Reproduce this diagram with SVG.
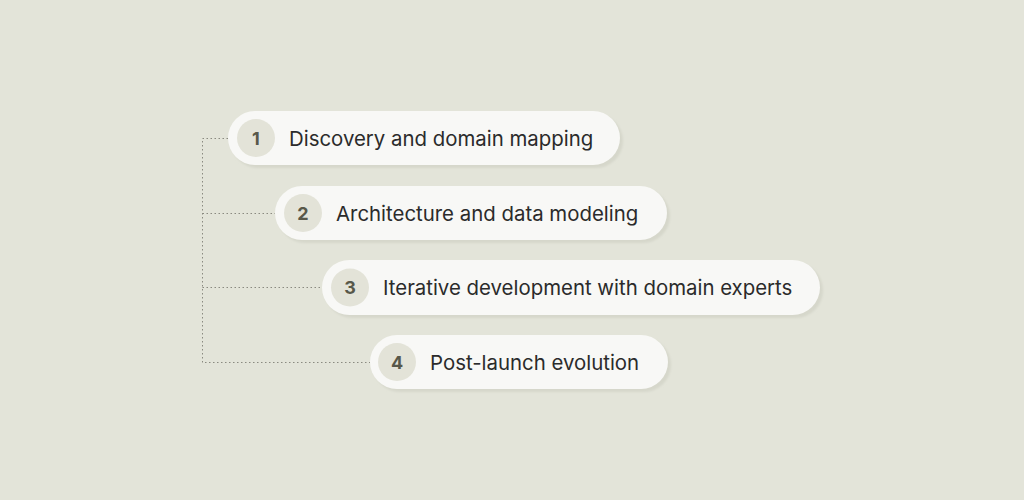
<svg xmlns="http://www.w3.org/2000/svg" width="1024" height="500" viewBox="0 0 1024 500">
<defs>
<style>
.pill{fill:#f8f8f6;}
.sh{fill:#d6d7cb;}
.circ{fill:#e3e3d8;}
.num{font-family:Inter,"Liberation Sans",sans-serif;font-size:18px;font-weight:700;fill:#58584a;text-anchor:middle;}
.lbl{font-family:Inter,"Liberation Sans",sans-serif;font-size:20.4px;fill:#2b2b2b;}
.con{fill:none;stroke:#8a8a80;stroke-width:1;stroke-dasharray:1.5 2.5;}
</style>
<filter id="blur" x="-10%" y="-30%" width="120%" height="160%"><feGaussianBlur stdDeviation="1.2"/></filter>
</defs>
<rect width="1024" height="500" fill="#e3e4d9"/>
<g id="connectors">
<path class="con" d="M228 138.5 H202.5 V362.5 H370"/>
<path class="con" d="M202.5 213.5 H275"/>
<path class="con" d="M202.5 287.5 H322"/>
</g>
<g id="node1">
<rect class="sh" x="231" y="114" width="392" height="54" rx="27" filter="url(#blur)"/>
<rect class="pill" x="228" y="111" width="392" height="54" rx="27"/>
<circle class="circ" cx="256" cy="138" r="19"/>
<text class="num" x="256" y="144.5">1</text>
<text class="lbl" x="289" y="145.5">Discovery and domain mapping</text>
</g>
<g id="node2">
<rect class="sh" x="278" y="189" width="392" height="54" rx="27" filter="url(#blur)"/>
<rect class="pill" x="275" y="186" width="392" height="54" rx="27"/>
<circle class="circ" cx="303" cy="213" r="19"/>
<text class="num" x="303" y="219.5">2</text>
<text class="lbl" x="336" y="220.5">Architecture and data modeling</text>
</g>
<g id="node3">
<rect class="sh" x="325" y="263" width="498" height="55" rx="27.5" filter="url(#blur)"/>
<rect class="pill" x="322" y="260" width="498" height="55" rx="27.5"/>
<circle class="circ" cx="350" cy="287.5" r="19"/>
<text class="num" x="350" y="294">3</text>
<text class="lbl" x="383" y="295">Iterative development with domain experts</text>
</g>
<g id="node4">
<rect class="sh" x="373" y="338" width="298" height="54" rx="27" filter="url(#blur)"/>
<rect class="pill" x="370" y="335" width="298" height="54" rx="27"/>
<circle class="circ" cx="397" cy="362" r="19"/>
<text class="num" x="397" y="368.5">4</text>
<text class="lbl" x="430" y="369.5">Post-launch evolution</text>
</g>
</svg>
